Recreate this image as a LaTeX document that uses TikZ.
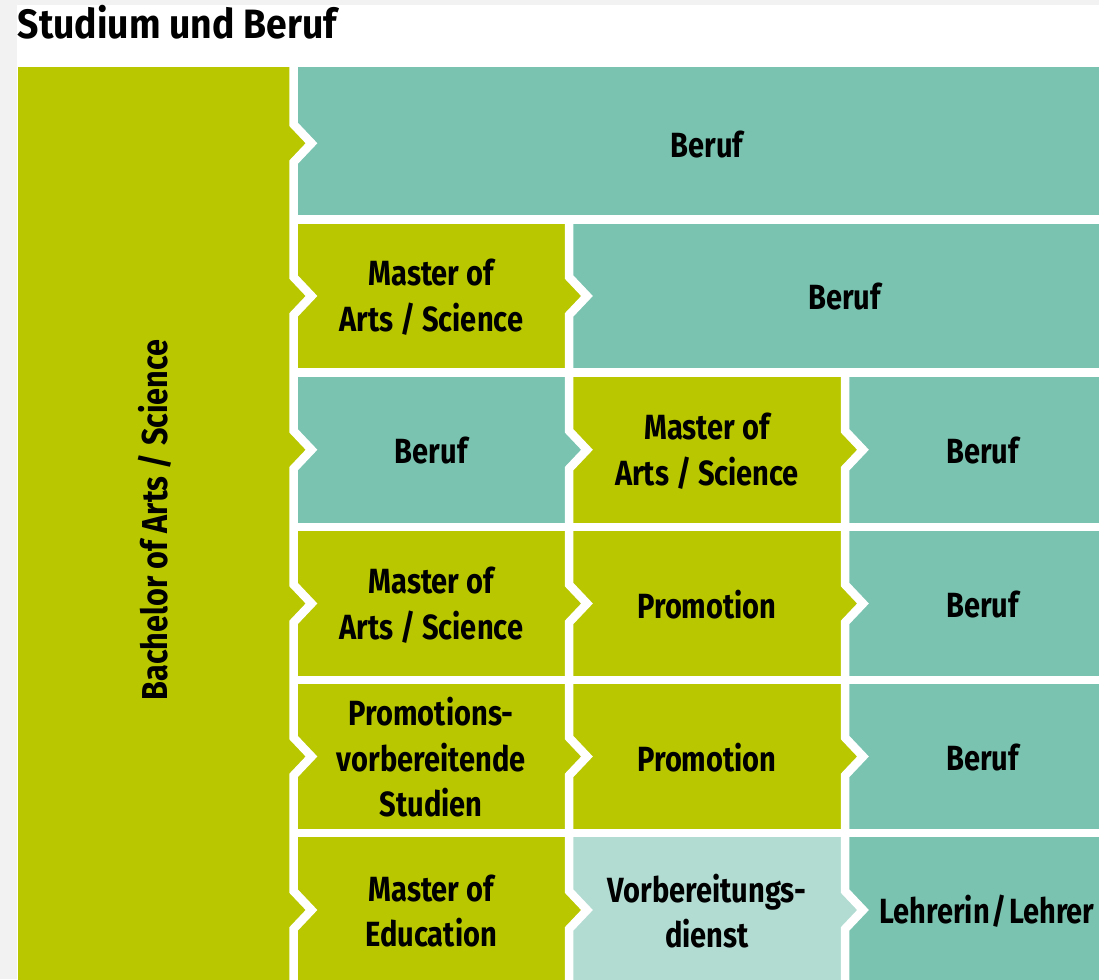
\documentclass[tikz,border=0pt]{standalone}
\usepackage{fontspec}
\setmainfont[FakeStretch=0.83]{Fira Sans}
\newfontfamily\titlefont[FakeStretch=0.91]{Fira Sans}
\newfontfamily\bafont[FakeStretch=0.85]{Fira Sans}
\definecolor{bggray}{HTML}{F2F2F2}
\definecolor{lime}{HTML}{B8C700}
\definecolor{teal2}{HTML}{7AC3B0}
\definecolor{lightteal}{HTML}{B2DCD2}
\tikzset{
  lbl/.style={font=\bfseries\fontsize{35}{45.5}\selectfont, align=center, inner sep=0pt, text=black},
  gapline/.style={draw=white, line width=8.5pt, line join=miter},
}
\newcommand{\tipat}[3]{% x, ycenter, color
  \fill[#3] (#1,#2-19) -- (#1+18,#2) -- (#1,#2+19) -- cycle;}
\begin{document}
\begin{tikzpicture}[x=1pt,y=-1pt]
\useasboundingbox (0,0) rectangle (1099,979);
\clip (0,0) rectangle (1099,979);
\fill[bggray] (0,0) rectangle (1099,979);
\fill[white] (17,5) rectangle (1099,979);
% title
\node[anchor=base west, inner sep=0pt, font=\titlefont\bfseries\fontsize{41}{41}\selectfont] (title) at (17.5,38.5) {Studium und Beruf};
% cells
\fill[lime] (17.5,67) rectangle (293.5,990);
% row 1
\fill[teal2] (293.5,67) rectangle (1120,219.5);
% row 2
\fill[lime] (293.5,219.5) rectangle (569,372.5);
\fill[teal2] (569,219.5) rectangle (1120,372.5);
% row 3
\fill[teal2] (293.5,372.5) rectangle (569,527);
\fill[lime] (569,372.5) rectangle (845,527);
\fill[teal2] (845,372.5) rectangle (1120,527);
% row 4
\fill[lime] (293.5,527) rectangle (845,680);
\fill[teal2] (845,527) rectangle (1120,680);
% row 5
\fill[lime] (293.5,680) rectangle (845,833);
\fill[teal2] (845,680) rectangle (1120,833);
% row 6
\fill[lime] (293.5,833) rectangle (569,990);
\fill[lightteal] (569,833) rectangle (845,990);
\fill[teal2] (845,833) rectangle (1120,990);
% tips
\tipat{293.5}{143.25}{lime}
\tipat{293.5}{296}{lime}
\tipat{293.5}{449.75}{lime}
\tipat{293.5}{603.5}{lime}
\tipat{293.5}{756.5}{lime}
\tipat{293.5}{910}{lime}
\tipat{569}{296}{lime}
\tipat{569}{449.75}{teal2}
\tipat{569}{603.5}{lime}
\tipat{569}{756.5}{lime}
\tipat{569}{910}{lime}
\tipat{845}{449.75}{lime}
\tipat{845}{603.5}{lime}
\tipat{845}{756.5}{lime}
\tipat{845}{910}{lightteal}
% white gaps
\foreach \y in {219.5,372.5,527,680,833} \draw[gapline] (293.5,\y) -- (1120,\y);
\draw[gapline] (293.5,67)
  \foreach \c in {143.25,296,449.75,603.5,756.5,910} { -- (293.5,\c-19) -- (311.5,\c) -- (293.5,\c+19) } -- (293.5,990);
\draw[gapline] (569,219.5)
  \foreach \c in {296,449.75,603.5,756.5,910} { -- (569,\c-19) -- (587,\c) -- (569,\c+19) } -- (569,990);
\draw[gapline] (845,372.5)
  \foreach \c in {449.75,603.5,756.5,910} { -- (845,\c-19) -- (863,\c) -- (845,\c+19) } -- (845,990);
% labels
\node[lbl, font=\bafont\bfseries\fontsize{36}{45.5}\selectfont, rotate=90] (ba) at (155,520) {Bachelor of Arts / Science};
\node[lbl] (b1) at (706.75,145) {Beruf};
\node[lbl] (m2) at (431.25,297) {Master of\\Arts / Science};
\node[lbl] (b2) at (844.5,297) {Beruf};
\node[lbl] (b3a) at (431.25,451) {Beruf};
\node[lbl] (m3) at (707,451) {Master of\\Arts / Science};
\node[lbl] (b3b) at (982.5,451) {Beruf};
\node[lbl] (m4) at (431.25,605) {Master of\\Arts / Science};
\node[lbl] (p4) at (707,605) {Promotion};
\node[lbl] (b4) at (982.5,605) {Beruf};
\node[lbl] (pv5) at (431.25,757.5) {Promotions-\\vorbereitende\\Studien};
\node[lbl] (p5) at (707,757.5) {Promotion};
\node[lbl] (b5) at (982.5,757.5) {Beruf};
\node[lbl] (me6) at (431.25,911) {Master of\\Education};
\node[lbl] (v6) at (707,911) {Vorbereitungs-\\dienst};
\node[lbl] (l6) at (987,911) {Lehrerin\hspace{2pt}/\hspace{2pt}Lehrer};
\end{tikzpicture}
\end{document}
